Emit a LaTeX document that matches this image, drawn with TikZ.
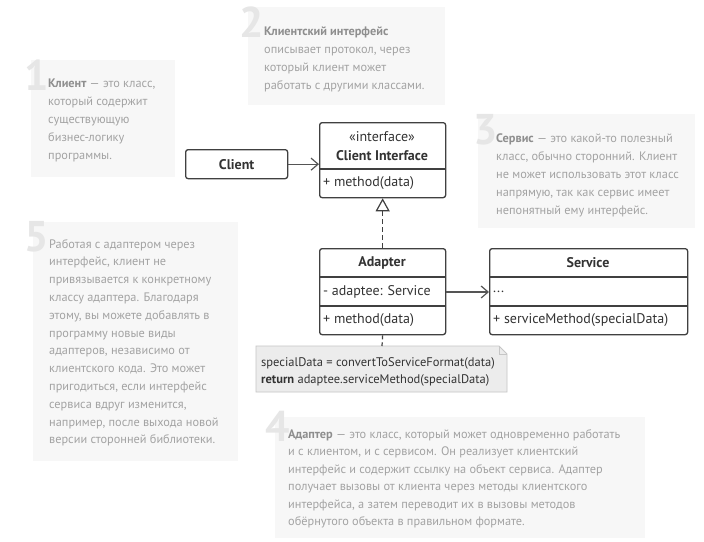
\documentclass[tikz,border=0pt]{standalone}
\usepackage{fontspec}
\setmainfont{PT Sans}
\usetikzlibrary{arrows.meta}
\definecolor{annbg}{HTML}{F7F7F7}
\definecolor{anntxt}{HTML}{A3A3A3}
\definecolor{annbold}{HTML}{8E8E8E}
\definecolor{anndigit}{HTML}{E6E6E6}
\definecolor{umlline}{HTML}{404040}
\definecolor{umltxt}{HTML}{333333}
\definecolor{notebg}{HTML}{ECECEC}
\definecolor{noteline}{HTML}{C6C6C6}
\definecolor{arrowc}{HTML}{555555}
\newcommand\annb[1]{\textbf{\color{annbold}#1}}
\begin{document}
\begin{tikzpicture}[x=1pt,y=-1pt,
  annbox/.style={fill=annbg, draw=none},
  anntext/.style={anchor=base west, inner sep=0pt, align=left, text=anntxt,
    font=\fontsize{12.3}{#1}\selectfont},
  anntext/.default=18,
  digit/.style={anchor=base west, inner sep=0pt, text=anndigit,
    font=\fontsize{43}{43}\selectfont\bfseries},
  cls/.style={draw=umlline, line width=1.3pt, fill=white, rounded corners=2.5pt,
    inner sep=0pt, anchor=north west},
  sepline/.style={draw=umlline, line width=1.3pt},
  umltext/.style={inner sep=0pt, text=umltxt, font=\fontsize{14}{16}\selectfont},
  umlitem/.style={umltext, anchor=west},
  assoc/.style={draw=arrowc, line width=1.2pt, -{Straight Barb[length=7pt,width=12pt,line width=1.2pt]}},
  realize/.style={draw=umlline, line width=1.2pt, dash pattern=on 5pt off 3pt,
    -{Triangle[open,length=13pt,width=14pt,line width=1.2pt]}},
  notelink/.style={draw=umlline, line width=1.2pt, dash pattern=on 4pt off 3pt},
  notetext/.style={anchor=base west, inner sep=0pt, align=left, text=umltxt,
    font=\fontsize{12.5}{17}\selectfont}
]
\useasboundingbox (0,0) rectangle (704,541);
\fill[white] (0,0) rectangle (704,541);

% annotation 1 (base anchor = last line's baseline)
\fill[annbox] (31,60) rectangle (175,177);
\node[digit] (d1) at (24,90) {1};
\node[anntext] (t1) at (48,159) {\annb{Клиент} — это класс,\\который содержит\\существующую\\бизнес-логику\\программы.};

% annotation 2
\fill[annbox] (248,7) rectangle (445,105);
\node[digit] (d2) at (239,37) {2};
\node[anntext] (t2) at (264,89) {\annb{Клиентский интерфейс}\\описывает протокол, через\\который клиент может\\работать с другими классами.};

% annotation 3
\fill[annbox] (478,114) rectangle (695,228);
\node[digit] (d3) at (473,144) {3};
\node[anntext] (t3) at (496,214) {\annb{Сервис} — это какой-то полезный\\класс, обычно сторонний. Клиент\\не может использовать этот класс\\напрямую, так как сервис имеет\\непонятный ему интерфейс.};

% annotation 5
\fill[annbox] (33,222) rectangle (238,461);
\node[digit] (d5) at (24,251) {5};
\node[anntext=17.8] (t5) at (49,443.8) {Работая с адаптером через\\интерфейс, клиент не\\привязывается к конкретному\\классу адаптера. Благодаря\\этому, вы можете добавлять в\\программу новые виды\\адаптеров, независимо от\\клиентского кода. Это может\\пригодиться, если интерфейс\\сервиса вдруг изменится,\\например, после выхода новой\\версии сторонней библиотеки.};

% annotation 4
\fill[annbox] (275,417) rectangle (645,538);
\node[digit] (d4) at (265,441) {4};
\node[anntext=17.5] (t4) at (288,525.5) {\annb{Адаптер} — это класс, который может одновременно работать\\и с клиентом, и с сервисом. Он реализует клиентский\\интерфейс и содержит ссылку на объект сервиса. Адаптер\\получает вызовы от клиента через методы клиентского\\интерфейса, а затем переводит их в вызовы методов\\обёрнутого объекта в правильном формате.};

% Client
\node[cls, minimum width=102pt, minimum height=29pt] (client) at (185,149) {};
\node[umltext] (clientname) at (client.center) {\textbf{Client}};

% Client Interface
\node[cls, minimum width=126pt, minimum height=75pt] (iface) at (319,122) {};
\draw[sepline] (319,169) -- (445,169);
\node[umltext] (ifst) at (382,137) {«interface»};
\node[umltext] (ifname) at (382,156) {\textbf{Client Interface}};
\node[umlitem] (ifm) at (323,183) {+ method(data)};

% Adapter
\node[cls, minimum width=126pt, minimum height=86pt] (adapter) at (319,248) {};
\draw[sepline] (319,277) -- (445,277);
\draw[sepline] (319,306) -- (445,306);
\node[umltext] (adname) at (382,263) {\textbf{Adapter}};
\node[umlitem] (adf) at (323,292) {- adaptee: Service};
\node[umlitem] (adm) at (323,320) {+ method(data)};

% Service
\node[cls, minimum width=198pt, minimum height=86pt] (service) at (489,248) {};
\draw[sepline] (489,277) -- (687,277);
\draw[sepline] (489,306) -- (687,306);
\node[umltext] (svname) at (588,263) {\textbf{Service}};
\node[umlitem] (svf) at (493,292) {...};
\node[umlitem] (svm) at (493,320) {+ serviceMethod(specialData)};

% Note
\coordinate (notetop) at (382,346);
\draw[fill=notebg, draw=noteline, line width=0.8pt] (256,346) -- (499,346) -- (507,354) -- (507,392) -- (256,392) -- cycle;
\draw[draw=noteline, line width=0.8pt] (499,346) -- (499,354) -- (507,354);
\node[notetext] (note) at (261,383) {specialData = convertToServiceFormat(data)\\\textbf{return} adaptee.serviceMethod(specialData)};

% connectors
\draw[assoc] (client.east) -- (client.east -| iface.west);
\draw[assoc] (adapter.east |- adf) -- (service.west |- adf);
\draw[realize] (adapter.north) -- (iface.south);
\draw[notelink] (adapter.south) -- (notetop);
\end{tikzpicture}
\end{document}
